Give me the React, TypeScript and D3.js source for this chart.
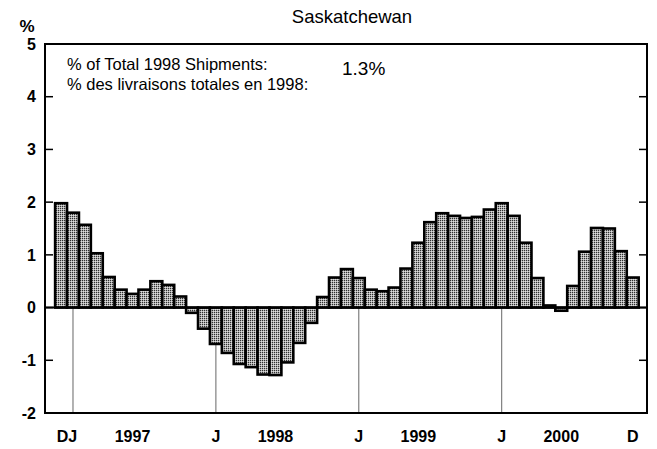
import React from "react";
import * as d3 from "d3";

const months: string[] = d3
  .timeMonth.range(new Date(1996, 11, 1), new Date(2001, 0, 1))
  .map((d) => d3.timeFormat("%Y-%m")(d));

const values: number[] = [
  1.98, 1.8, 1.57, 1.03, 0.58, 0.34, 0.26, 0.34, 0.5, 0.43, 0.21, -0.1,
  -0.4, -0.69, -0.86, -1.07, -1.13, -1.27, -1.28, -1.04, -0.67, -0.29, 0.2, 0.57,
  0.73, 0.56, 0.34, 0.31, 0.38, 0.74, 1.23, 1.62, 1.79, 1.74, 1.7, 1.72,
  1.86, 1.98, 1.74, 1.23, 0.56, 0.04, -0.06, 0.41, 1.06, 1.51, 1.5, 1.07,
  0.57,
];

const yTicks: number[] = [-2, -1, 0, 1, 2, 3, 4, 5];
const xLabelTexts: string[] = ["DJ", "1997", "J", "1998", "J", "1999", "J", "2000", "D"];
const xLabelMonths: string[][] = [
  ["1996-12", "1997-01"],
  ["1997-06"],
  ["1998-01"],
  ["1998-06"],
  ["1999-01"],
  ["1999-06"],
  ["2000-01"],
  ["2000-06"],
  ["2000-12"],
];
const januaryLines: string[] = ["1997-01", "1998-01", "1999-01", "2000-01"];

const title = "Saskatchewan";
const noteEn = "% of Total 1998 Shipments:";
const noteFr = "% des livraisons totales en 1998:";
const noteValue = "1.3%";

export default function App() {
  const W = 657;
  const H = 449;
  const left = 45,
    right = 647,
    top = 44,
    bottom = 413;
  const x = d3.scaleLinear().domain([-1.35, 49.2]).range([left, right]);
  const y = d3.scaleLinear().domain([-2, 5]).range([bottom, top]);
  const step = x(1) - x(0);
  const idx = (m: string) => months.indexOf(m);
  const font = "'Liberation Sans', Arial, Helvetica, sans-serif";

  return (
    <svg
      width={W}
      height={H}
      style={{ position: "absolute", left: 0, top: 0, background: "#fff" }}
      fontFamily={font}
    >
      <defs>
        <pattern id="stip" width="2" height="2" patternUnits="userSpaceOnUse">
          <rect width="2" height="2" fill="#b0b0b0" />
          <rect x="0" y="0" width="1" height="1" fill="#303030" />
          <rect x="1" y="1" width="1" height="1" fill="#dcdcdc" />
        </pattern>
      </defs>
      <rect width={W} height={H} fill="#fff" />

      {januaryLines.map((m) => (
        <line
          key={m}
          x1={x(idx(m))}
          x2={x(idx(m))}
          y1={y(0)}
          y2={y(-2)}
          stroke="#666"
          strokeWidth={1}
        />
      ))}

      {values.map((v, i) => {
        const y0 = y(Math.max(0, v));
        const y1 = y(Math.min(0, v));
        return (
          <rect
            key={months[i]}
            x={x(i) - step / 2}
            y={y0}
            width={step}
            height={Math.max(0.5, y1 - y0)}
            fill="url(#stip)"
            stroke="#000"
            strokeWidth={2.6}
          />
        );
      })}

      <line x1={left} x2={right} y1={y(0)} y2={y(0)} stroke="#000" strokeWidth={2} />

      <rect
        x={left}
        y={top}
        width={right - left}
        height={bottom - top}
        fill="none"
        stroke="#000"
        strokeWidth={2}
      />

      {yTicks.map((t) => (
        <g key={t}>
          <line x1={left} x2={left + 8} y1={y(t)} y2={y(t)} stroke="#000" strokeWidth={1.5} />
          <line x1={right - 8} x2={right} y1={y(t)} y2={y(t)} stroke="#000" strokeWidth={1.5} />
          <text
            x={36}
            y={y(t)}
            dy="0.36em"
            textAnchor="end"
            fontSize={16}
            fontWeight="bold"
          >
            {t}
          </text>
        </g>
      ))}
      <text x={27} y={32} textAnchor="middle" fontSize={17} fontWeight="bold">
        %
      </text>

      {xLabelTexts.map((t, k) => {
        const ms = xLabelMonths[k];
        const cx = d3.mean(ms.map((m) => x(idx(m)))) as number;
        return (
          <text key={k} x={cx} y={442} textAnchor="middle" fontSize={16} fontWeight="bold">
            {t}
          </text>
        );
      })}

      <text x={352} y={23} textAnchor="middle" fontSize={18.5}>
        {title}
      </text>

      <text x={67} y={70} fontSize={16.5}>
        {noteEn}
      </text>
      <text x={67} y={90} fontSize={16.5}>
        {noteFr}
      </text>
      <text x={342} y={75} fontSize={19}>
        {noteValue}
      </text>
    </svg>
  );
}
